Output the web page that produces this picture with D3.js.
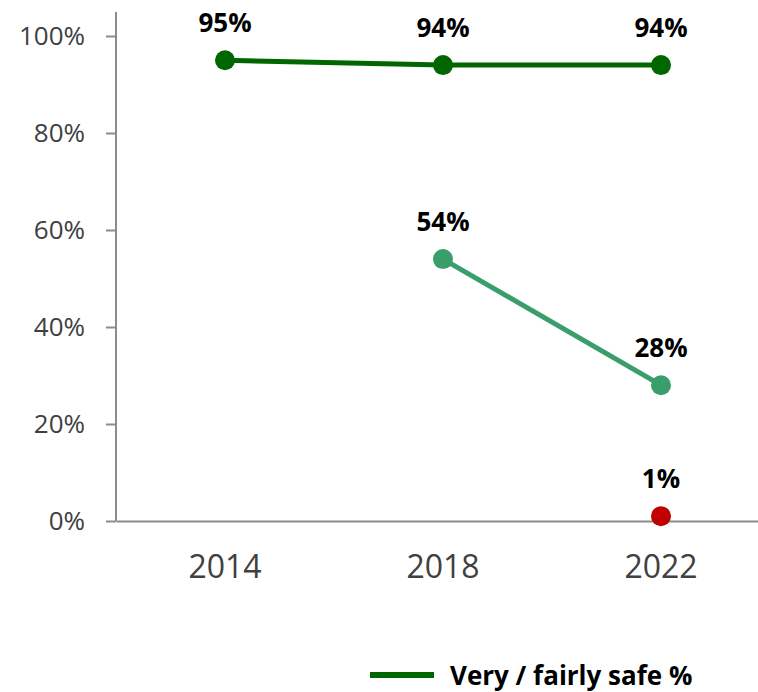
<!DOCTYPE html>
<html><head><meta charset="utf-8">
<script src="https://cdn.jsdelivr.net/npm/d3@7"></script>
<style>body{margin:0;background:#fff}svg{display:block}</style>
</head><body>
<svg id="c" width="758" height="692"></svg>
<script>
const years = ["2014", "2018", "2022"];
const safeValues = [95, 94, 94];
const series2Years = ["2018", "2022"];
const series2Values = [54, 28];
const series3Years = ["2022"];
const series3Values = [1];
const yTicks = [0, 20, 40, 60, 80, 100];
const legendLabel = "Very / fairly safe %";

const svg = d3.select("#c");
const font = "'Open Sans', sans-serif";
const x = d3.scaleBand().domain(years).range([116, 770]);
const y = d3.scaleLinear().domain([0, 100]).range([521, 36]);
const cx = d => x(d) + x.bandwidth() / 2;

// axes
const yAxis = svg.append("g").attr("transform", "translate(116,0)")
  .call(d3.axisLeft(y).tickValues(yTicks).tickFormat(d => d + "%").tickSize(10).tickPadding(21));
yAxis.select(".domain").remove();
yAxis.selectAll("line").attr("stroke", "#8c8c8c").attr("stroke-width", 2);
yAxis.selectAll("text").attr("font-family", font).attr("font-size", 26).attr("fill", "#404040");
svg.append("line").attr("x1", 116).attr("x2", 116).attr("y1", 12).attr("y2", 521)
  .attr("stroke", "#8c8c8c").attr("stroke-width", 2);

const xAxis = svg.append("g").attr("transform", "translate(0,521)")
  .call(d3.axisBottom(x).tickSize(0).tickPadding(34));
xAxis.select(".domain").attr("stroke", "#8c8c8c").attr("stroke-width", 2);
xAxis.selectAll("text").attr("font-family", font).attr("font-size", 32).attr("fill", "#404040");

function drawSeries(cats, vals, color) {
  const pts = cats.map((c, i) => [cx(c), y(vals[i]), vals[i]]);
  if (pts.length > 1) {
    svg.append("path").attr("d", d3.line()(pts.map(p => [p[0], p[1]])))
      .attr("fill", "none").attr("stroke", color).attr("stroke-width", 5);
  }
  svg.selectAll(null).data(pts).enter().append("circle")
    .attr("cx", p => p[0]).attr("cy", p => p[1]).attr("r", 10).attr("fill", color);
  svg.selectAll(null).data(pts).enter().append("text")
    .attr("x", p => p[0]).attr("y", p => p[1] - 28)
    .attr("text-anchor", "middle").attr("font-family", font).attr("font-weight", "bold")
    .attr("font-size", 26).attr("fill", "#000").text(p => p[2] + "%");
}
drawSeries(years, safeValues, "#006600");
drawSeries(series2Years, series2Values, "#3a9e6c");
drawSeries(series3Years, series3Values, "#c00000");

// legend
svg.append("line").attr("x1", 370).attr("x2", 434).attr("y1", 675).attr("y2", 675)
  .attr("stroke", "#006600").attr("stroke-width", 6);
svg.append("text").attr("x", 450).attr("y", 685).attr("font-family", font)
  .attr("font-weight", "bold").attr("font-size", 26).attr("fill", "#000").text(legendLabel);
</script>
</body></html>
